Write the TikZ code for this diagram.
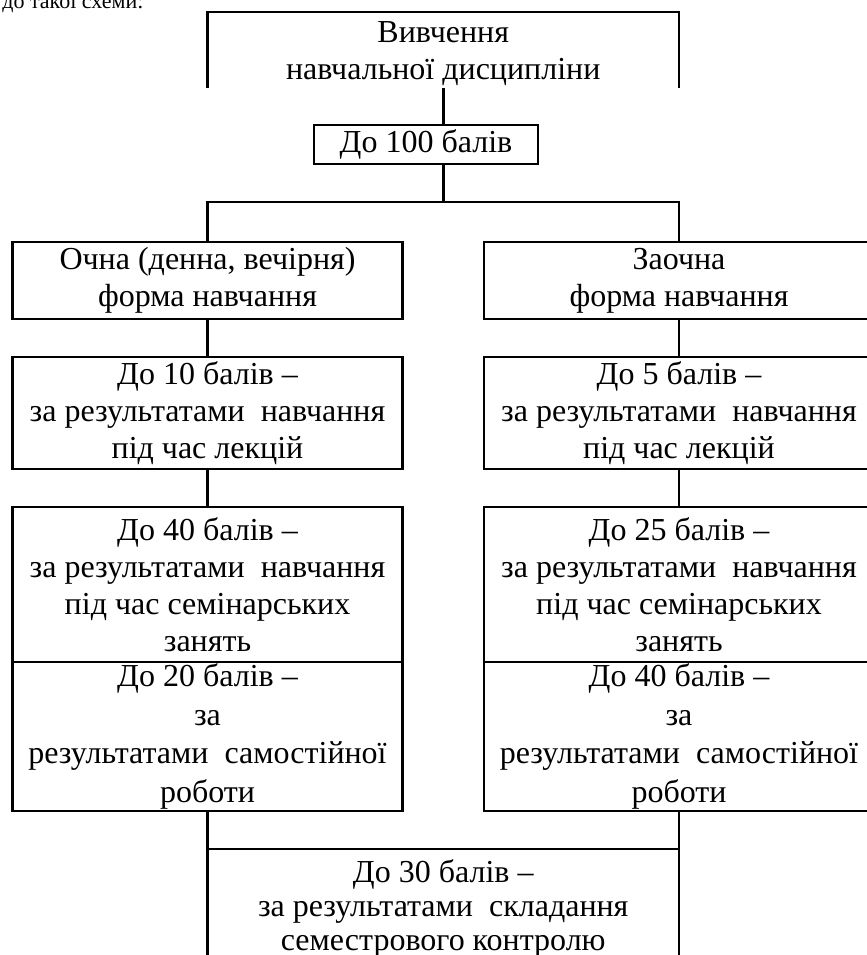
\documentclass[tikz,border=0pt]{standalone}
\usepackage{fontspec}
\setmainfont{Liberation Serif}
\usetikzlibrary{positioning}

\begin{document}
\begin{tikzpicture}[
    x=0.5pt, y=-0.5pt,
    node distance=19pt and 0pt,
    font=\fontsize{16pt}{18.5pt}\selectfont,
    box/.style={draw, line width=1.4pt, outer sep=0pt, inner sep=0pt, minimum width=195pt, align=center},
    openbox/.style={outer sep=0pt, inner sep=0pt, minimum width=235.75pt, align=center},
    link/.style={line width=1.4pt}
]
\useasboundingbox (0,0) rectangle (867,955);
\node[anchor=base west, inner sep=0pt, font=\fontsize{11pt}{13pt}\selectfont] (intro) at (2,8) {до такої схеми:};

\node[openbox, minimum height=38pt] (study) at (443.25,50) {\rule{0pt}{14.5pt}Вивчення\\навчальної дисципліни};
\node[box, minimum width=112pt, minimum height=19.5pt] (hundred) at (426,144.5) {До 100 балів};
\coordinate (split) at (443.25,202);

% left column
\node[box, minimum height=38.5pt] (formL) at (207.5,280.5) {Очна (денна, вечірня)\\форма навчання};
\node[box, minimum height=56pt, below=of formL] (lectL) {До 10 балів –\\за результатами\ \ навчання\\під час лекцій};
\node[box, minimum height=77.5pt, below=of lectL] (semL) {До 40 балів –\\за результатами\ \ навчання\\під час семінарських\\занять};
\node[box, minimum height=74.5pt, below=0pt of semL, font=\fontsize{16pt}{19.2pt}\selectfont] (selfL) {До 20 балів –\\за\\результатами\ \ самостійної\\роботи};

% right column
\node[box, minimum height=38.5pt] (formR) at (679,280.5) {Заочна\\форма навчання};
\node[box, minimum height=56pt, below=of formR] (lectR) {До 5 балів –\\за результатами\ \ навчання\\під час лекцій};
\node[box, minimum height=77.5pt, below=of lectR] (semR) {До 25 балів –\\за результатами\ \ навчання\\під час семінарських\\занять};
\node[box, minimum height=74.5pt, below=0pt of semR, font=\fontsize{16pt}{19.2pt}\selectfont] (selfR) {До 40 балів –\\за\\результатами\ \ самостійної\\роботи};

\node[openbox, minimum height=59.5pt, font=\fontsize{16pt}{17pt}\selectfont] (exam) at (443.25,908.5) {До 30 балів –\\за результатами\ \ складання\\семестрового контролю};

% open frames
\draw[link] (study.south west) -- (study.north west) -- (study.north east) -- (study.south east);
\draw[link] (exam.south west) -- (exam.north west) -- (exam.north east) -- (exam.south east);

% connectors
\draw[link] (study.south) -- (study.south |- hundred.north);
\draw[link] (hundred.south -| study.south) -- (split);
\draw[link] (formL.north) |- (split) -| (formR.north);
\draw[link] (formL.south) -- (lectL.north);
\draw[link] (lectL.south) -- (semL.north);
\draw[link] (formR.south) -- (lectR.north);
\draw[link] (lectR.south) -- (semR.north);
\draw[link] (selfL.south) -- (selfL.south |- exam.north);
\draw[link] (selfR.south) -- (selfR.south |- exam.north);
\end{tikzpicture}
\end{document}
